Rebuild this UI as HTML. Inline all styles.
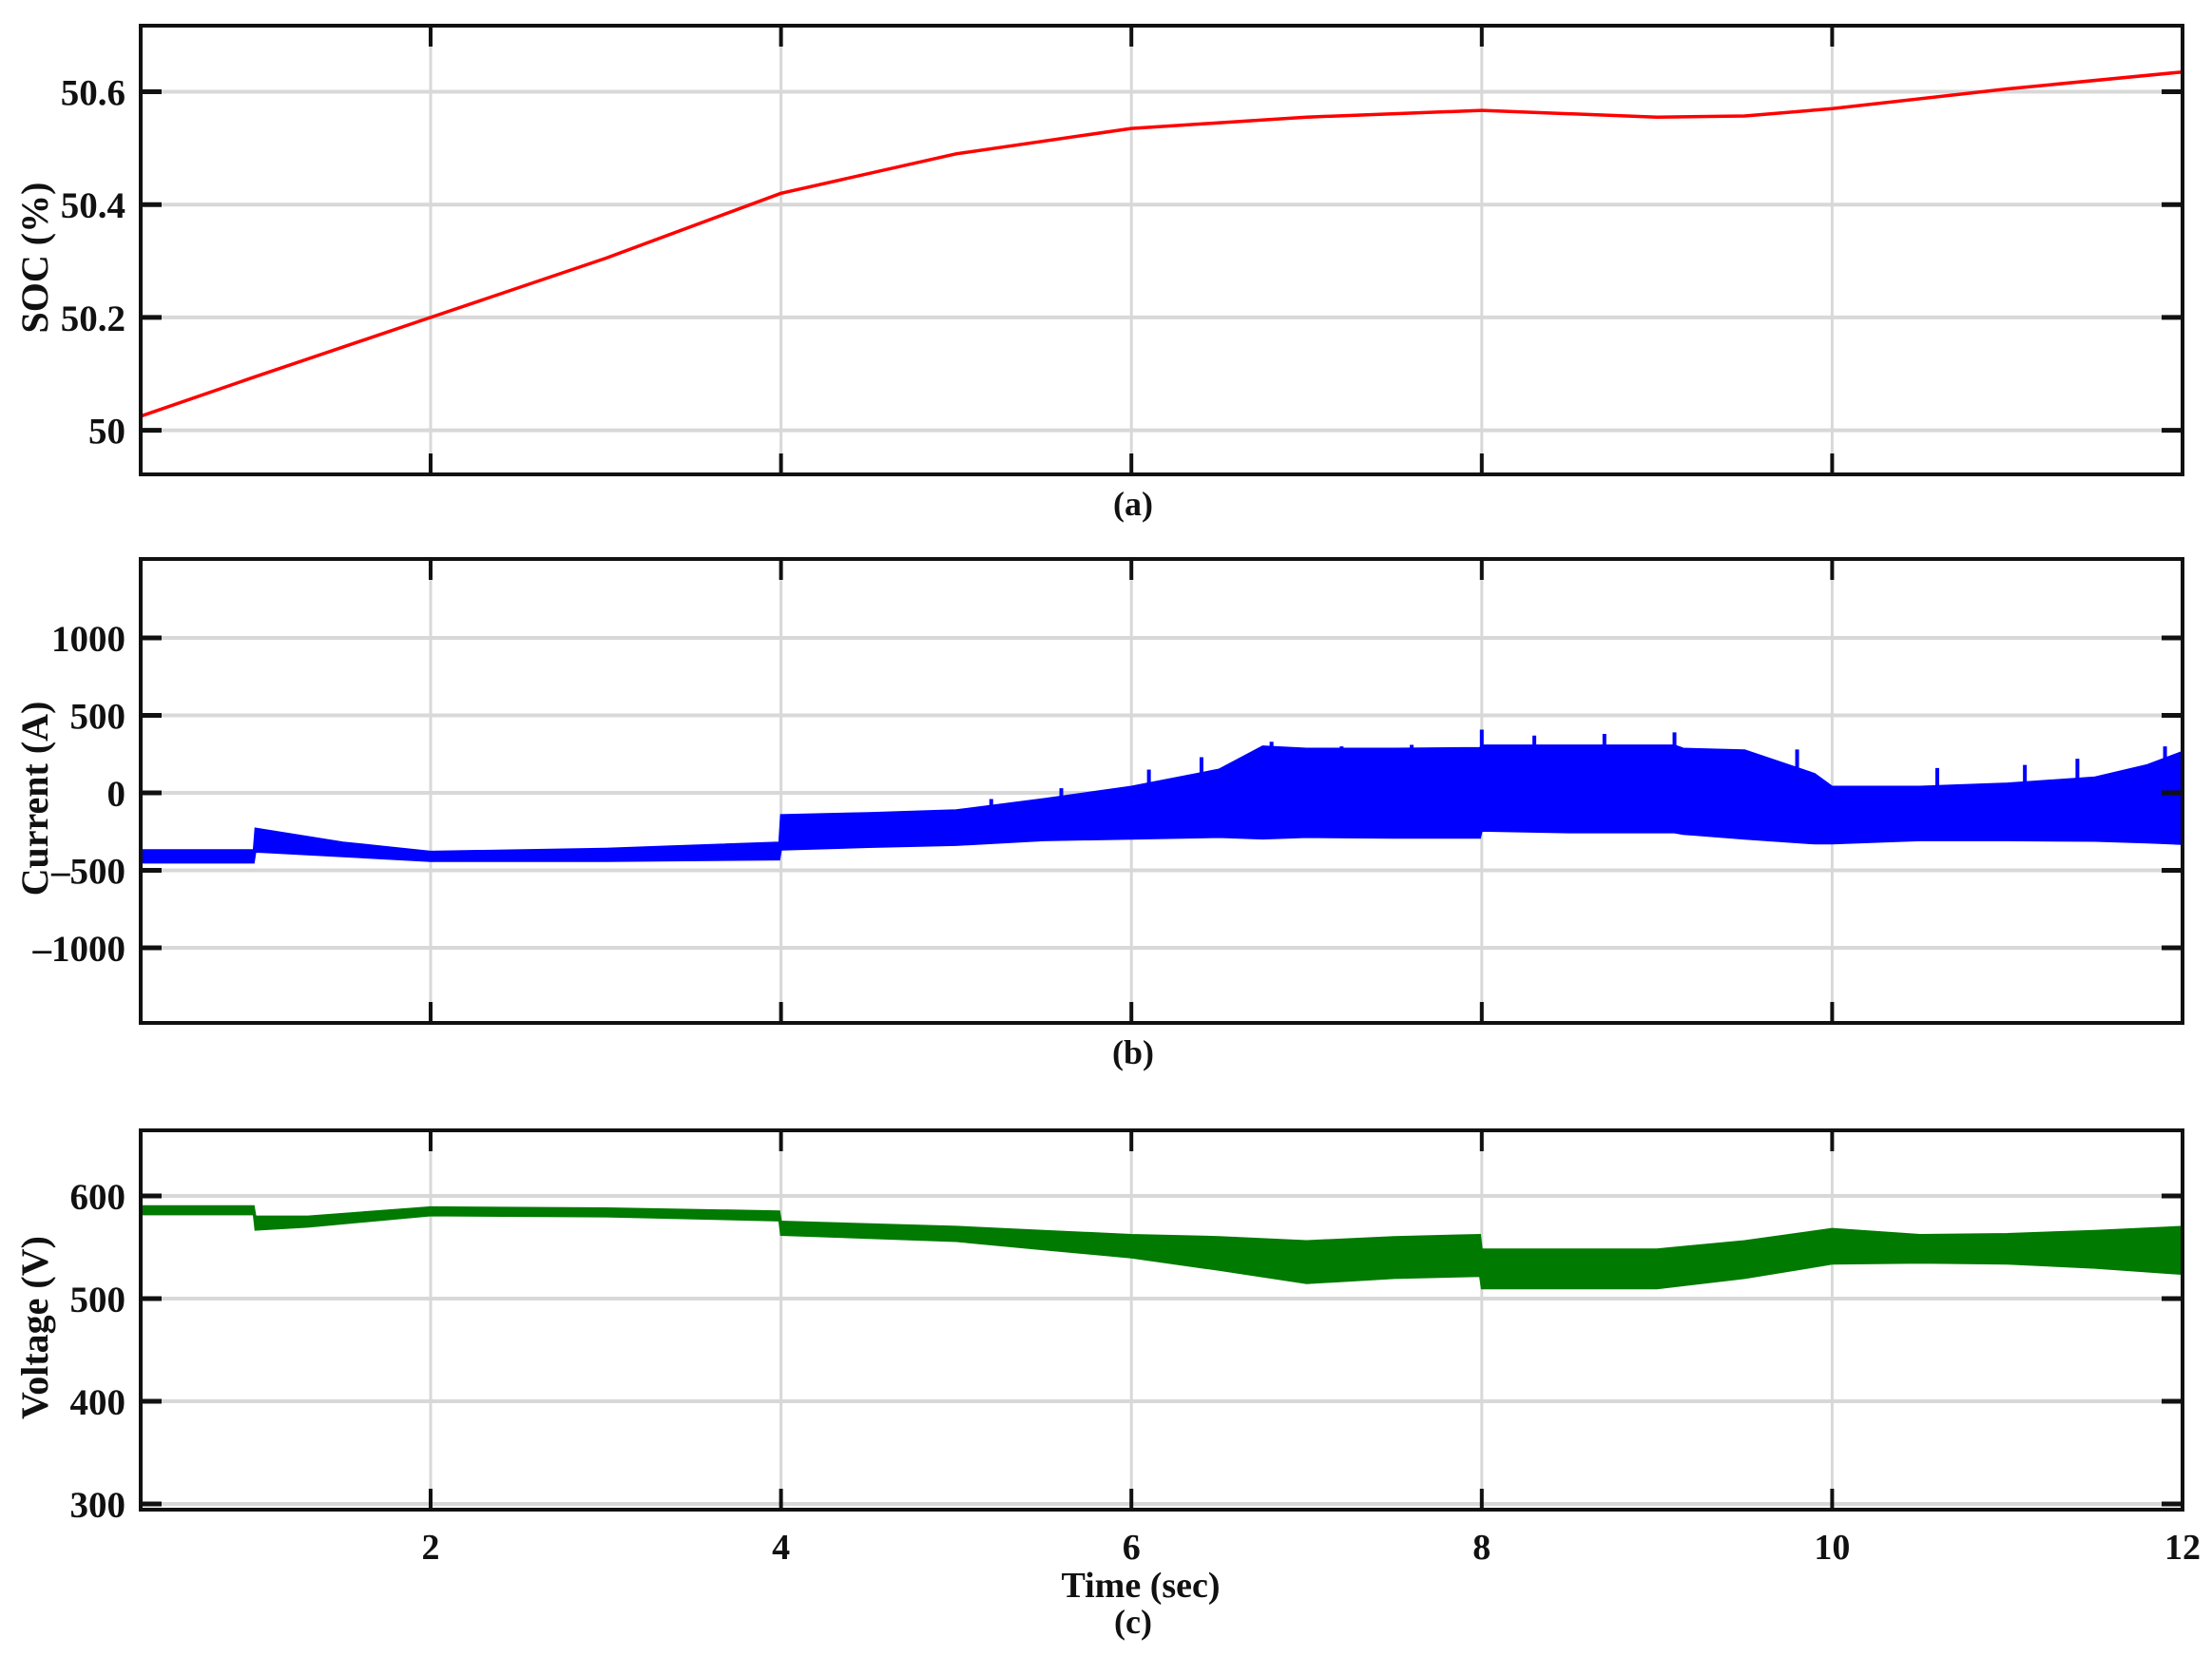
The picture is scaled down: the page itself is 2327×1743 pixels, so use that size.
<!DOCTYPE html>
<html><head><meta charset="utf-8">
<style>
html,body{margin:0;padding:0;background:#fff;}
svg{display:block;}
text{font-family:"Liberation Serif",serif;font-weight:bold;fill:#111;}
</style></head>
<body>
<svg id="chart" width="2327" height="1743" viewBox="0 0 2327 1743" xmlns="http://www.w3.org/2000/svg"></svg>
<script>
// ---- data ----
const xTicks = [2, 4, 6, 8, 10, 12];
const socTicks = [50, 50.2, 50.4, 50.6];
const socTickLabels = ["50", "50.2", "50.4", "50.6"];
const socT = [0.345, 1, 2, 3, 4, 5, 6, 7, 8, 9, 9.5, 10, 11, 12];
const socV = [50.025, 50.095, 50.2, 50.305, 50.42, 50.49, 50.535, 50.555, 50.567, 50.555, 50.557, 50.57, 50.605, 50.635];

const curTicks = [-1000, -500, 0, 500, 1000];
const curTickLabels = ["\u20131000", "\u2013500", "0", "500", "1000"];
const curT =     [0.345, 0.99, 1.0, 1.5, 2, 3, 3.99, 4.0, 4.5, 5, 5.5, 6, 6.5, 6.75, 7, 7.5, 7.99, 8.0, 8.5, 9.1, 9.15, 9.5, 9.9, 10, 10.5, 11, 11.5, 11.8, 12];
const curHi =    [-370, -370, -230, -320, -380, -360, -320, -143, -130, -112, -40, 40, 150, 300, 285, 285, 290, 306, 306, 306, 285, 275, 122, 40, 40, 61, 100, 180, 265];
const curLo =    [-450, -450, -380, -410, -440, -440, -430, -367, -350, -337, -306, -296, -285, -295, -285, -290, -290, -245, -255, -255, -265, -296, -327, -327, -306, -306, -310, -320, -330];
const curSpikeT = [5.2, 5.6, 6.1, 6.4, 6.8, 7.2, 7.6, 8.0, 8.3, 8.7, 9.1, 9.8, 10.6, 11.1, 11.4, 11.9];
const curSpikeV = [-40, 30, 150, 230, 330, 300, 310, 408, 370, 380, 390, 280, 160, 180, 220, 300];

const voltTicks = [300, 400, 500, 600];
const voltTickLabels = ["300", "400", "500", "600"];
const voltT =  [0.345, 0.99, 1.0, 1.3, 2, 3, 3.99, 4.0, 5, 5.5, 6, 6.5, 7, 7.5, 7.99, 8.0, 9, 9.5, 10, 10.5, 11, 11.5, 12];
const voltHi = [590, 590, 580, 580, 589, 588, 585, 575, 570, 566, 562, 560, 556, 560, 562, 548, 548, 556, 568, 562, 563, 566, 570];
const voltLo = [582, 582, 567, 570, 581, 580, 576, 562, 556, 548, 540, 528, 515, 520, 522, 510, 510, 520, 534, 535, 534, 530, 524];

// ---- layout ----
const svg = document.getElementById('chart');
const NS = 'http://www.w3.org/2000/svg';
const L = 148, R = 2296;
const t0 = 0.345, t1 = 12;
function xs(t){ return L + (t - t0) / (t1 - t0) * (R - L); }
function mk(tag, attrs, parent){
  const e = document.createElementNS(NS, tag);
  for (const k in attrs) e.setAttribute(k, attrs[k]);
  (parent || svg).appendChild(e);
  return e;
}

const panels = [
  {name:'soc', top:27, bot:499, v0:50, p0:452.6, v1:50.6, p1:96.5, ticks:socTicks, labels:socTickLabels, title:'SOC (%)', cap:'(a)', capY:552},
  {name:'current', top:588, bot:1076, v0:-1000, p0:997, v1:1000, p1:671, ticks:curTicks, labels:curTickLabels, title:'Current (A)', cap:'(b)', capY:1129},
  {name:'voltage', top:1189, bot:1588, v0:300, p0:1582, v1:600, p1:1258, ticks:voltTicks, labels:voltTickLabels, title:'Voltage (V)', cap:'(c)', capY:1728}
];
panels.forEach(p => { p.ys = v => p.p0 + (v - p.v0) / (p.v1 - p.v0) * (p.p1 - p.p0); });

function drawPanel(p){
  const g = mk('g', {});
  
  
  xTicks.forEach(t => {
    const ln = mk('line', {x1:xs(t), x2:xs(t), y1:p.top, y2:p.bot, stroke:'#d8d8d8', 'stroke-width':3}, g);
    
    
  });
  p.ticks.forEach(v => {
    const ln = mk('line', {x1:L, x2:R, y1:p.ys(v), y2:p.ys(v), stroke:'#d8d8d8', 'stroke-width':4}, g);
    
    
  });
  return g;
}
function drawFrame(p, g){
  xTicks.forEach(t => {
    if (t >= 12) return;
    mk('line', {x1:xs(t), x2:xs(t), y1:p.top, y2:p.top+22, stroke:'#111', 'stroke-width':4}, g);
    mk('line', {x1:xs(t), x2:xs(t), y1:p.bot, y2:p.bot-22, stroke:'#111', 'stroke-width':4}, g);
  });
  p.ticks.forEach((v, i) => {
    const y = p.ys(v);
    mk('line', {x1:L, x2:L+22, y1:y, y2:y, stroke:'#111', 'stroke-width':5}, g);
    mk('line', {x1:R, x2:R-22, y1:y, y2:y, stroke:'#111', 'stroke-width':5}, g);
    const tx = mk('text', {x:L-16, y:y+14, 'text-anchor':'end', 'font-size':39}, g);
    tx.textContent = p.labels[i];
    
    
  });
  const fr = mk('rect', {x:L, y:p.top, width:R-L, height:p.bot-p.top, fill:'none', stroke:'#111', 'stroke-width':4}, g);
  
  
  const yc = (p.top + p.bot) / 2 + 8;
  const tt = mk('text', {x:0, y:0, 'text-anchor':'middle', 'font-size':40, transform:'translate(50,'+yc+') rotate(-90)'}, g);
  tt.textContent = p.title;
  
  
  const cp = mk('text', {x:1192, y:p.capY - 10, 'text-anchor':'middle', 'font-size':36}, g);
  cp.textContent = p.cap;
  
  
}

// Panel a
let g = drawPanel(panels[0]);
let d = socT.map((t, i) => (i ? 'L' : 'M') + xs(t).toFixed(1) + ',' + panels[0].ys(socV[i]).toFixed(1)).join(' ');
let soc = mk('path', {d:d, fill:'none', stroke:'#ff0000', 'stroke-width':3.5, 'stroke-linejoin':'round'}, g);


drawFrame(panels[0], g);

// Panel b
g = drawPanel(panels[1]);
function band(T, HI, LO, p){
  let s = T.map((t, i) => (i ? 'L' : 'M') + xs(t).toFixed(1) + ',' + p.ys(HI[i]).toFixed(1)).join(' ');
  for (let i = T.length - 1; i >= 0; i--) s += ' L' + xs(T[i]).toFixed(1) + ',' + p.ys(LO[i]).toFixed(1);
  return s + ' Z';
}
let cb = mk('path', {d:band(curT, curHi, curLo, panels[1]), fill:'#0000ff', stroke:'#0000ff', 'stroke-width':2}, g);


curSpikeT.forEach((t, i) => {
  const s = mk('line', {x1:xs(t), x2:xs(t), y1:panels[1].ys(-100), y2:panels[1].ys(curSpikeV[i]), stroke:'#0000ff', 'stroke-width':4}, g);
  
  
});
drawFrame(panels[1], g);

// Panel c
g = drawPanel(panels[2]);
let vb = mk('path', {d:band(voltT, voltHi, voltLo, panels[2]), fill:'#007a00', stroke:'#007a00', 'stroke-width':2}, g);


drawFrame(panels[2], g);

// x tick labels and title
xTicks.forEach(t => {
  const tx = mk('text', {x:xs(t), y:1640, 'text-anchor':'middle', 'font-size':38});
  tx.textContent = String(t);
  
  
});
const xt = mk('text', {x:1200, y:1680, 'text-anchor':'middle', 'font-size':38});
xt.textContent = 'Time (sec)';


</script>
</body></html>
